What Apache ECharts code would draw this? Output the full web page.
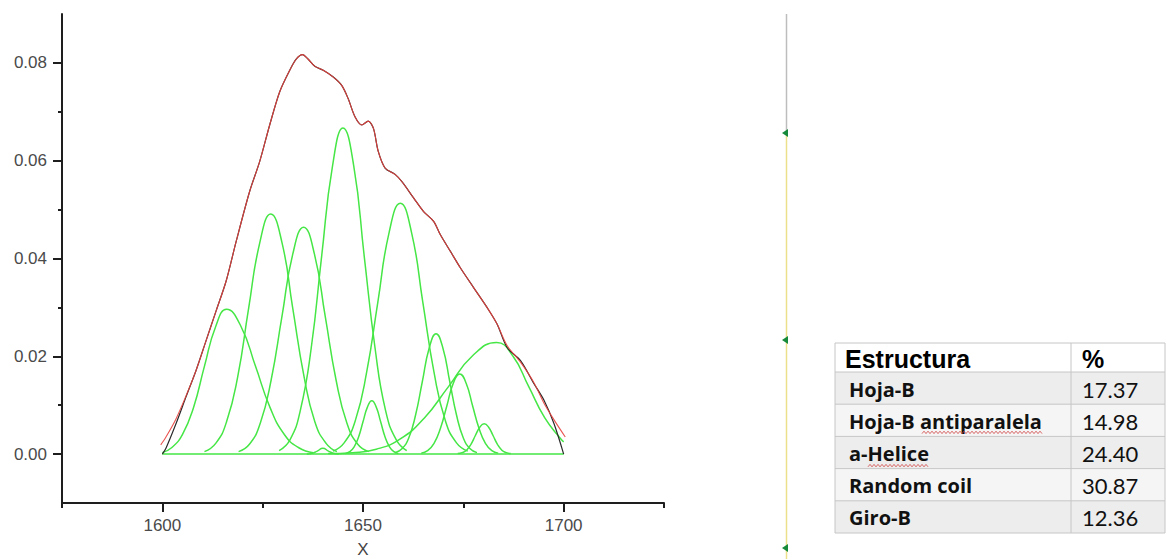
<!DOCTYPE html>
<html>
<head>
<meta charset="utf-8">
<script src="https://cdn.jsdelivr.net/npm/echarts@6/dist/echarts.min.js"></script>
<style>
  html, body { margin: 0; padding: 0; background: #fff; }
  #chart { width: 1166px; height: 559px; }
</style>
</head>
<body>
<div id="chart"></div>
<script>
// measured spectrum (black) and cumulative fit (red)
const spectrum = [
  [1600, 0], [1600.9, 0.0012], [1603.4, 0.0062], [1605.9, 0.0117], [1608.4, 0.0171],
  [1610.9, 0.0232], [1613.4, 0.0293], [1615.9, 0.0354], [1618.4, 0.0435], [1621.75, 0.0537],
  [1624.25, 0.0598], [1626.75, 0.0673], [1629.25, 0.0741], [1631.75, 0.0785], [1633.4, 0.0808],
  [1634.9, 0.0817], [1636.3, 0.0808], [1638, 0.0793], [1640.1, 0.0785], [1642.6, 0.0771],
  [1644.7, 0.0754], [1646.3, 0.0727], [1648, 0.069], [1649.7, 0.0673], [1651.3, 0.0681],
  [1652.6, 0.0666], [1653.8, 0.0619], [1655.5, 0.0585], [1658, 0.0572], [1659.7, 0.0557],
  [1662.6, 0.0524], [1665.1, 0.0496], [1667.6, 0.0476], [1669.25, 0.0449], [1671.75, 0.0415],
  [1674.25, 0.0381], [1677.6, 0.034], [1680.9, 0.03], [1683.4, 0.0266], [1685.9, 0.0218],
  [1689.25, 0.0191], [1692.6, 0.0144], [1695.1, 0.011], [1697.6, 0.0062], [1700, 0]
];
const fitCurve = [
  [1599.6, 0.0019], [1600.9, 0.0035], [1603.4, 0.0072], [1605.9, 0.0119], [1608.4, 0.0171],
  [1610.9, 0.0232], [1613.4, 0.0293], [1615.9, 0.0354], [1618.4, 0.0435], [1621.75, 0.0537],
  [1624.25, 0.0598], [1626.75, 0.0673], [1629.25, 0.0741], [1631.75, 0.0785], [1633.4, 0.0808],
  [1634.9, 0.0817], [1636.3, 0.0808], [1638, 0.0793], [1640.1, 0.0785], [1642.6, 0.0771],
  [1644.7, 0.0754], [1646.3, 0.0727], [1648, 0.069], [1649.7, 0.0673], [1651.3, 0.0681],
  [1652.6, 0.0666], [1653.8, 0.0619], [1655.5, 0.0585], [1658, 0.0572], [1659.7, 0.0557],
  [1662.6, 0.0524], [1665.1, 0.0496], [1667.6, 0.0476], [1669.25, 0.0449], [1671.75, 0.0415],
  [1674.25, 0.0381], [1677.6, 0.034], [1680.9, 0.03], [1683.4, 0.0266], [1685.9, 0.0222],
  [1689.25, 0.0188], [1692.6, 0.0146], [1695.1, 0.0104], [1697.6, 0.007], [1700.4, 0.0035]
];

// fitted component bands (green)
const peak1 = [[1600, 0.0003], [1602.3, 0.0013], [1605, 0.004], [1607.8, 0.0096], [1610.5, 0.018], [1613.3, 0.0261], [1616, 0.0296], [1619.6, 0.0261], [1623.2, 0.018], [1626.8, 0.0096], [1630.4, 0.004], [1634, 0.0013], [1637.6, 0.0003]];
const peak2 = [[1610.5, 0.0005], [1613.3, 0.0022], [1616, 0.0066], [1618.8, 0.0159], [1621.5, 0.0298], [1624.3, 0.0433], [1627, 0.0491], [1629.8, 0.0433], [1632.5, 0.0298], [1635.3, 0.0159], [1638, 0.0066], [1640.8, 0.0022], [1643.5, 0.0005]];
const peak3 = [[1619, 0.0005], [1621.7, 0.002], [1624.4, 0.0063], [1627.1, 0.0151], [1629.8, 0.0281], [1632.5, 0.0409], [1635.2, 0.0464], [1637.9, 0.0409], [1640.6, 0.0281], [1643.3, 0.0151], [1646, 0.0063], [1648.7, 0.002], [1651.4, 0.0005]];
const peak4 = [[1629.1, 0.0007], [1631.8, 0.0029], [1634.4, 0.009], [1637.1, 0.0217], [1639.7, 0.0405], [1642.4, 0.0589], [1645, 0.0667], [1647.7, 0.0589], [1650.3, 0.0405], [1653, 0.0217], [1655.6, 0.009], [1658.3, 0.0029], [1660.9, 0.0007]];
const peak5 = [[1645.6, 0.0001], [1646.7, 0.0005], [1647.8, 0.0015], [1648.9, 0.0035], [1650, 0.0066], [1651.1, 0.0096], [1652.2, 0.0109], [1653.3, 0.0096], [1654.4, 0.0066], [1655.5, 0.0035], [1656.6, 0.0015], [1657.7, 0.0005], [1658.8, 0.0001]];
const peak6 = [[1642.5, 0.0006], [1645.3, 0.0023], [1648.1, 0.0069], [1650.9, 0.0167], [1653.7, 0.0311], [1656.5, 0.0453], [1659.3, 0.0513], [1662.1, 0.0453], [1664.9, 0.0311], [1667.7, 0.0167], [1670.5, 0.0069], [1673.3, 0.0023], [1676.1, 0.0006]];
const peak7 = [[1658, 0.0003], [1659.7, 0.0011], [1661.4, 0.0033], [1663.1, 0.008], [1664.8, 0.0149], [1666.5, 0.0217], [1668.2, 0.0246], [1669.9, 0.0217], [1671.6, 0.0149], [1673.3, 0.008], [1675, 0.0033], [1676.7, 0.0011], [1678.4, 0.0003]];
const peak8 = [[1664.5, 0.0002], [1666.1, 0.0007], [1667.7, 0.0022], [1669.3, 0.0053], [1670.9, 0.0099], [1672.5, 0.0145], [1674.1, 0.0164], [1675.7, 0.0145], [1677.3, 0.0099], [1678.9, 0.0053], [1680.5, 0.0022], [1682.1, 0.0007], [1683.7, 0.0002]];
const peak9 = [[1673.6, 0.0001], [1674.7, 0.0003], [1675.8, 0.0008], [1676.9, 0.002], [1678, 0.0038], [1679.1, 0.0055], [1680.2, 0.0062], [1681.3, 0.0055], [1682.4, 0.0038], [1683.5, 0.002], [1684.6, 0.0008], [1685.7, 0.0003], [1686.8, 0.0001]];
const peak10 = [[1641.3, 0.0001], [1647.3, 0.0003], [1653.3, 0.001], [1659.3, 0.0031], [1665.3, 0.0074], [1671.3, 0.0138], [1677.3, 0.0201], [1683.3, 0.0228], [1687.3, 0.0201], [1691.3, 0.0138], [1695.3, 0.0074], [1699.3, 0.0031], [1700, 0.0025]];
const peak11 = [[1636, 0], [1637.5, 0.0002], [1638.6, 0.0006], [1640, 0.0012], [1641.4, 0.0006], [1642.5, 0.0002], [1644, 0]];
const baseline = [[1600, 0], [1700, 0]];

const xMajor = [1600, 1650, 1700];
const xMinor = [1575, 1625, 1675, 1725];
const yMajor = [0, 0.02, 0.04, 0.06, 0.08];
const yMinor = [0.01, 0.03, 0.05, 0.07];

// table on the right
const tableHeader = ['Estructura', '%'];
const structures = ['Hoja-B', 'Hoja-B antiparalela', 'a-Helice', 'Random coil', 'Giro-B'];
const percents = ['17.37', '14.98', '24.40', '30.87', '12.36'];

const chart = echarts.init(document.getElementById('chart'), null, { renderer: 'svg' });

const peaks = [peak1, peak2, peak3, peak4, peak5, peak6, peak7, peak8, peak9, peak10, peak11];
const green = '#45e645';

const series = [];
series.push({
  type: 'line', data: baseline, showSymbol: false, silent: true,
  lineStyle: { color: green, width: 1.5 }
});
peaks.forEach(function (p) {
  series.push({
    type: 'line', data: p, showSymbol: false, silent: true,
    smooth: 0.5,
    lineStyle: { color: green, width: 1.5 }
  });
});
series.push({
  type: 'line', data: spectrum, showSymbol: false, silent: true, smooth: 0.3,
  lineStyle: { color: '#2a2a2a', width: 1.2 }
});
series.push({
  type: 'line', data: fitCurve, showSymbol: false, silent: true, smooth: 0.3,
  lineStyle: { color: '#e8403c', width: 1.1, opacity: 0.9 }
});

// table graphics
const tLeft = 835, tTop = 343, tRight = 1165, tDiv = 1071;
const headH = 29, rowH = 32.2;
const tableEls = [];
tableEls.push({ type: 'rect', shape: { x: tLeft, y: tTop, width: tRight - tLeft, height: headH }, style: { fill: '#fff' } });
structures.forEach(function (s, i) {
  const y = tTop + headH + i * rowH;
  tableEls.push({ type: 'rect', shape: { x: tLeft, y: y, width: tRight - tLeft, height: rowH }, style: { fill: i % 2 === 0 ? '#ededed' : '#f5f5f5' } });
  tableEls.push({ type: 'text', x: 849, y: y + rowH / 2 + 1, style: { text: s, font: 'bold 20px "Open Sans"', fill: '#111', verticalAlign: 'middle' } });
  tableEls.push({ type: 'text', x: 1082, y: y + rowH / 2 + 1, style: { text: percents[i], font: '22px Lato', fill: '#111', verticalAlign: 'middle' } });
});
tableEls.push({ type: 'text', x: 845, y: tTop + headH / 2 + 1, style: { text: tableHeader[0], font: 'bold 25px "Liberation Sans", Arial', fill: '#000', verticalAlign: 'middle' } });
tableEls.push({ type: 'text', x: 1082, y: tTop + headH / 2 + 1, style: { text: tableHeader[1], font: 'bold 25px "Liberation Sans", Arial', fill: '#000', verticalAlign: 'middle' } });
// grid lines of the table
for (let i = 0; i <= structures.length + 1; i++) {
  const y = i === 0 ? tTop : tTop + headH + (i - 1) * rowH;
  tableEls.push({ type: 'line', shape: { x1: tLeft, y1: y, x2: tRight, y2: y }, style: { stroke: '#c6c6c6', lineWidth: 1 } });
}
[tLeft, tDiv, tRight].forEach(function (x) {
  tableEls.push({ type: 'line', shape: { x1: x, y1: tTop, x2: x, y2: tTop + headH + structures.length * rowH }, style: { stroke: '#c6c6c6', lineWidth: 1 } });
});

// red spell-check squiggles
function squiggle(x1, x2, y) {
  const pts = [];
  for (let x = x1, k = 0; x <= x2; x += 2, k++) pts.push([x, y + (k % 2 ? -1.2 : 1.2)]);
  return { type: 'polyline', shape: { points: pts }, style: { stroke: '#d04040', lineWidth: 0.8, fill: null } };
}
tableEls.push(squiggle(922, 1042, tTop + headH + 2 * rowH - 4));
tableEls.push(squiggle(868, 928, tTop + headH + 3 * rowH - 3));

// slide handle line with markers
const handleEls = [
  { type: 'line', shape: { x1: 786.5, y1: 14, x2: 786.5, y2: 133 }, style: { stroke: '#bdbdbd', lineWidth: 1.5 } },
  { type: 'line', shape: { x1: 786.5, y1: 133, x2: 786.5, y2: 559 }, style: { stroke: '#ece08a', lineWidth: 1.5 } }
];
[133, 340, 548].forEach(function (y) {
  handleEls.push({ type: 'polygon', shape: { points: [[782, y], [788, y - 4], [788, y + 4]] }, style: { fill: '#168a3a' } });
});

const plainNum = function (v) { return String(v); };

const option = {
  animation: false,
  backgroundColor: '#fff',
  grid: { left: 62, right: 502, top: 14, bottom: 56, containLabel: false, outerBoundsMode: 'none' },
  xAxis: [
    {
      type: 'value', min: 1575, max: 1725, position: 'bottom',
      name: 'X', nameLocation: 'middle', nameGap: 38,
      nameTextStyle: { fontSize: 17, color: '#444', fontFamily: 'Liberation Sans' },
      axisLine: { onZero: false, lineStyle: { color: '#1e1e1e', width: 2 } },
      axisTick: { customValues: xMajor, length: 9, lineStyle: { color: '#1e1e1e', width: 2 } },
      axisLabel: { customValues: xMajor, margin: 14, fontSize: 17, color: '#4a4a4a', fontFamily: 'Liberation Sans', formatter: plainNum },
      splitLine: { show: false }
    },
    {
      type: 'value', min: 1575, max: 1725, position: 'bottom',
      axisLine: { show: false, onZero: false },
      axisTick: { customValues: xMinor, length: 5, lineStyle: { color: '#1e1e1e', width: 2 } },
      axisLabel: { show: false },
      splitLine: { show: false }
    }
  ],
  yAxis: [
    {
      type: 'value', min: -0.01, max: 0.09, position: 'left',
      axisLine: { show: true, onZero: false, lineStyle: { color: '#1e1e1e', width: 2 } },
      axisTick: { show: true, customValues: yMajor, length: 9, lineStyle: { color: '#1e1e1e', width: 2 } },
      axisLabel: {
        customValues: yMajor, margin: 15, fontSize: 17, color: '#4a4a4a', fontFamily: 'Liberation Sans',
        formatter: function (v) { return v.toFixed(2); }
      },
      splitLine: { show: false }
    },
    {
      type: 'value', min: -0.01, max: 0.09, position: 'left',
      axisLine: { show: false, onZero: false },
      axisTick: { show: true, customValues: yMinor, length: 4, lineStyle: { color: '#1e1e1e', width: 2 } },
      axisLabel: { show: false },
      splitLine: { show: false }
    }
  ],
  series: series,
  graphic: handleEls.concat(tableEls)
};

chart.setOption(option);
</script>
</body>
</html>
